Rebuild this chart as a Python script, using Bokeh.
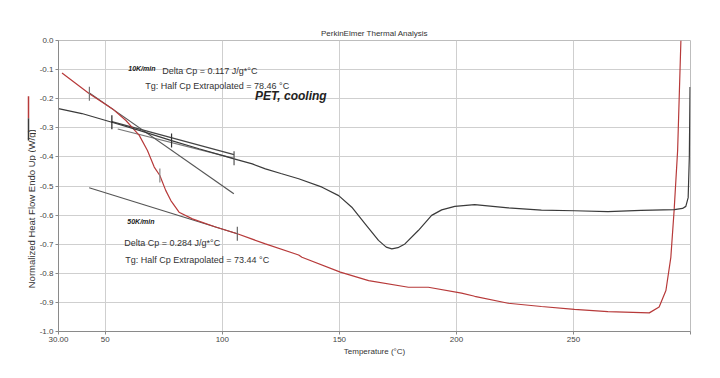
from bokeh.plotting import figure
from bokeh.models import Range1d, FixedTicker, Label, Title
from bokeh.layouts import row
from bokeh.core.properties import value
from bokeh.embed import file_html
from bokeh.resources import INLINE

# ---- data ----
black_x = [30, 40, 52.8, 64.5, 78.3, 90, 105, 112.8, 118.4, 125, 132.6, 142.6, 149.7, 155.3, 161,
           166.7, 170, 172.4, 175, 178, 183.7, 189.4, 193.7, 199.3, 207.8, 222.1, 236.3, 250.4,
           264.7, 278.9, 293.1, 296.6, 298, 299, 299.5, 299.8]
black_y = [-0.234, -0.251, -0.281, -0.309, -0.344, -0.372, -0.407, -0.424, -0.441, -0.457, -0.475,
           -0.504, -0.533, -0.573, -0.63, -0.687, -0.71, -0.716, -0.712, -0.699, -0.653, -0.601,
           -0.582, -0.570, -0.564, -0.575, -0.583, -0.585, -0.588, -0.584, -0.581, -0.577, -0.57,
           -0.54, -0.40, -0.16]

red_x = [31.5, 43.2, 53.1, 58.8, 64.5, 68, 70.9, 73.3, 75.8, 78, 81.5, 87.2, 97.1, 106.4, 118.4,
         132.6, 134, 150.4, 162.5, 179.5, 188, 202.2, 207.8, 222.1, 236.3, 250.4, 264.7, 282.4,
         286.6, 289.5, 291.6, 293, 294.5, 295.9]
red_y = [-0.112, -0.183, -0.235, -0.275, -0.326, -0.378, -0.435, -0.464, -0.515, -0.55, -0.59,
         -0.613, -0.641, -0.664, -0.699, -0.737, -0.745, -0.796, -0.825, -0.848, -0.848, -0.868,
         -0.879, -0.903, -0.914, -0.924, -0.932, -0.936, -0.916, -0.859, -0.745, -0.584, -0.378, 0.0]

# tangent lines (x0, y0, x1, y1)
tan_x0 = [52.8, 55.3, 43.2, 43.1]
tan_y0 = [-0.279, -0.304, -0.180, -0.506]
tan_x1 = [105.0, 105.0, 104.9, 106.4]
tan_y1 = [-0.392, -0.405, -0.527, -0.664]
tan_col = ["#444444", "#777777", "#555555", "#555555"]

# marker ticks on curves
mark_x = [52.8, 78.3, 105.0, 43.2, 73.3, 106.4]
mark_y = [-0.281, -0.344, -0.405, -0.183, -0.464, -0.664]
mark_col = ["#222222", "#333333", "#555555", "#777777", "#888888", "#666666"]

x_ticks = [30, 50, 100, 150, 200, 250, 300]
y_ticks = [0.0, -0.1, -0.2, -0.3, -0.4, -0.5, -0.6, -0.7, -0.8, -0.9, -1.0]

FONT = "Liberation Sans"
RED = "#b73a3a"
BLK = "#3a3a3a"
H = 370
LEFTW = 36

# ---- side strip holding the y-axis title and the legend strokes ----
side = figure(width=LEFTW, height=H, output_backend="svg", toolbar_location=None, title=None,
              x_range=Range1d(0, LEFTW), y_range=Range1d(H, 0),
              min_border_left=0, min_border_right=0, min_border_top=0, min_border_bottom=0)
side.axis.visible = False
side.grid.visible = False
side.outline_line_color = None
side.text(x=[31], y=[214], text=["Normalized Heat Flow Endo Up (W/g)"], angle=1.5708,
          text_font=value(FONT), text_font_size="9.5px", text_color="#333333",
          text_align="center", text_baseline="middle")
side.segment(x0=[28, 28], y0=[71, 99], x1=[28, 28], y1=[99, 127],
             line_color=[RED, BLK], line_width=1.5)

# ---- main chart ----
p = figure(width=720 - LEFTW, height=H, output_backend="svg", toolbar_location=None, title=None,
           x_range=Range1d(30, 300), y_range=Range1d(-1.0, 0.0),
           min_border_left=56 - LEFTW, min_border_right=30, min_border_top=40, min_border_bottom=39)
p.outline_line_color = "#bdbdbd"

p.xaxis.ticker = FixedTicker(ticks=x_ticks)
p.xaxis.major_label_overrides = {30: "30.00", 300: ""}
p.yaxis.ticker = FixedTicker(ticks=y_ticks)
p.yaxis.major_label_overrides = {v: f"{v:.1f}" for v in y_ticks}
p.yaxis.major_label_overrides[0.0] = "0.0"
for ax in (p.xaxis, p.yaxis):
    ax.axis_line_color = "#8a8a8a"
    ax.major_tick_line_color = "#8a8a8a"
    ax.major_tick_out = 3
    ax.major_tick_in = 0
    ax.minor_tick_line_color = None
    ax.major_label_text_font = FONT
    ax.major_label_text_font_size = "8px"
    ax.major_label_text_color = "#444444"
    ax.major_label_standoff = 2
p.xgrid.ticker = FixedTicker(ticks=[50, 100, 150, 200, 250])
p.ygrid.ticker = FixedTicker(ticks=y_ticks)
p.xgrid.grid_line_color = "#cfcfcf"
p.ygrid.grid_line_color = "#cfcfcf"

p.add_layout(Title(text="PerkinElmer Thermal Analysis", align="center", offset=-11,
                   text_font=FONT, text_font_size="8px", text_font_style="normal",
                   text_color="#333333", standoff=6), "above")
p.add_layout(Title(text="Temperature (°C)", align="center", offset=-10,
                   text_font=FONT, text_font_size="8px", text_font_style="normal",
                   text_color="#333333", standoff=0), "below")

# tangents
p.segment(tan_x0, tan_y0, tan_x1, tan_y1, line_color=tan_col, line_width=1.2)
# curves
p.line(red_x, red_y, line_color=RED, line_width=1.2)
p.line(black_x, black_y, line_color=BLK, line_width=1.2)
# marker ticks
half = 0.024
p.segment(mark_x, [v - half for v in mark_y], mark_x, [v + half for v in mark_y],
          line_color=mark_col, line_width=1.2)


def dx(px):
    return 30 + (px - 56) / 2.348


def dy(py):
    return -(py - 40) / 291.0


def lab(text, px, py, size, style="normal", color="#333333"):
    p.add_layout(Label(x=dx(px), y=dy(py), text=text, text_font=FONT, text_font_size=size,
                       text_font_style=style, text_align="left", text_baseline="middle",
                       text_color=color))


lab("10K/min", 126, 68, "7px", style="bold italic", color="#222222")
lab("Delta Cp = 0.117 J/g*°C", 160, 70, "9px")
lab("Tg: Half Cp Extrapolated = 78.46 °C", 143, 85, "9px")
lab("PET, cooling", 253, 95, "12px", style="bold italic", color="#222222")
lab("50K/min", 125, 221, "7px", style="bold italic", color="#222222")
lab("Delta Cp = 0.284 J/g*°C", 122, 242, "9px")
lab("Tg: Half Cp Extrapolated = 73.44 °C", 123, 259, "9px")

layout = row(side, p, spacing=0)
open("out.html", "w").write(file_html(layout, INLINE))
